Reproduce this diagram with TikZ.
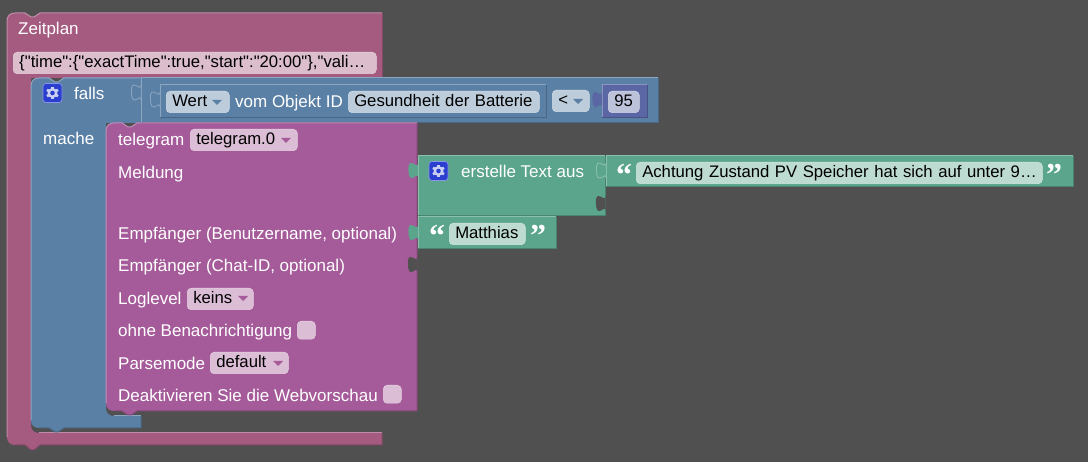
\documentclass[tikz,border=0pt]{standalone}
\usepackage{fontspec}
\setmainfont{Liberation Sans}[Ligatures=TeXOff]
\newfontfamily\quotefont{Liberation Serif}[BoldFont={Liberation Serif Bold}]
\definecolor{bgdark}{HTML}{505050}
\definecolor{bpink}{HTML}{A55B80}
\definecolor{bpinkhi}{HTML}{C08CA6}
\definecolor{bpinklo}{HTML}{844966}
\definecolor{fpink}{HTML}{DBBDCC}
\definecolor{bblue}{HTML}{5B80A5}
\definecolor{bbluehi}{HTML}{8CA6C0}
\definecolor{bbluelo}{HTML}{496684}
\definecolor{fblue}{HTML}{BDCCDB}
\definecolor{bpurple}{HTML}{A55B99}
\definecolor{bpurplehi}{HTML}{C08CB8}
\definecolor{bpurplelo}{HTML}{84497A}
\definecolor{fpurple}{HTML}{DBBDD6}
\definecolor{bgreen}{HTML}{5BA58C}
\definecolor{bgreenhi}{HTML}{8CC0AE}
\definecolor{bgreenlo}{HTML}{498470}
\definecolor{fgreen}{HTML}{BDDBD1}
\definecolor{bindigo}{HTML}{5B67A5}
\definecolor{bindigohi}{HTML}{8C95C0}
\definecolor{bindigolo}{HTML}{495284}
\definecolor{findigo}{HTML}{BDC2DB}
\definecolor{iconblue}{HTML}{2A3FCF}
\newcommand{\blockrect}[5]{%
  \fill[#5] (#1,#2) rectangle (#3,#4);
  \draw[#5hi,line width=1pt] (#1,#4)--(#1,#2)--(#3,#2);
  \draw[#5lo,line width=1pt] (#3,#2)--(#3,#4)--(#1,#4);
}
\begin{document}
\begin{tikzpicture}[
  x=1pt,y=-1pt,
  lab/.style={font=\fontsize{17}{18}\selectfont,text=white,anchor=base west,inner sep=0pt},
  pill/.style={draw=white!35!#1,fill=#1,line width=0.5pt,rounded corners=4pt,anchor=north west,
    font=\fontsize{16.7}{18}\selectfont,text=black,inner xsep=6pt,inner ysep=3pt,
    text height=12.7pt,text depth=2.8pt,align=left},
  tick/.style={fill=#1,draw=white!35!#1,line width=0.5pt,rounded corners=4pt,minimum size=18pt,
    inner sep=0pt,anchor=north west},
  quot/.style={font=\quotefont\bfseries\fontsize{32}{32}\selectfont,text=white,anchor=base west,inner sep=0pt},
  pics/puzzletab/.style={code={
    \path[#1] (0,0) .. controls (0,8) and (-10.5,-9) .. (-9.5,7.5) .. controls (-9,24) and (0,7) .. (0,15);
  }},
  pics/droparrow/.style={code={
    \fill[#1] (-5,-2)--(5,-2)--(0,3)--cycle;
  }},
  pics/gearicon/.style={code={
    \draw[fill=iconblue,draw=white!45!iconblue,line width=0.7pt,rounded corners=3pt] (-9.5,-9.5) rectangle (9.5,9.5);
    \foreach \a in {30,90,150,210,270,330}{
      \draw[white!75!iconblue,line width=2.6pt] (0,0)--(\a:6.4);
    }
    \fill[white!75!iconblue] (0,0) circle (5);
    \fill[iconblue] (0,0) circle (2.3);
  }},
]
\fill[bgdark] (0,0) rectangle (1088,462);
\useasboundingbox (0,0) rectangle (1088,462);

\fill[bpink] (15,13)--(25,13)--(31,17)--(34,17)--(40,13)--(382,13)--(382,78)--(31,78)--(31,425)
  .. controls (31,430) and (34,433) .. (39,433)--(382,433)--(382,445)--(40,445)--(34,450)--(31,450)--(25,445)--(15,445)
  .. controls (10,445) and (7,442) .. (7,437)--(7,21) .. controls (7,16) and (10,13) .. (15,13)--cycle;
\draw[bpinkhi,line width=1pt] (7,437)--(7,21) .. controls (7,16) and (10,13) .. (15,13)--(25,13)--(31,17)--(34,17)--(40,13)--(382,13);
\draw[bpinkhi,line width=1pt] (39,433)--(382,433);
\draw[bpinklo,line width=1pt] (382,13)--(382,78);
\draw[bpinklo,line width=1pt] (382,433)--(382,445)--(40,445)--(34,450)--(31,450)--(25,445)--(15,445);

\fill[bblue] (39,78)--(49,78)--(55,82)--(58,82)--(64,78)--(141,78)--(141,123)--(106,123)--(106,408)
  .. controls (106,413) and (109,416) .. (114,416)--(141,416)--(141,428)--(64,428)--(58,432)--(55,432)--(49,428)--(39,428)
  .. controls (34,428) and (31,425) .. (31,420)--(31,86) .. controls (31,81) and (34,78) .. (39,78)--cycle;
\draw[bbluehi,line width=1pt] (31,420)--(31,86) .. controls (31,81) and (34,78) .. (39,78)--(49,78)--(55,82)--(58,82)--(64,78)--(141,78);
\draw[bbluehi,line width=1pt] (114,416)--(141,416);
\draw[bbluelo,line width=1pt] (141,416)--(141,428)--(64,428)--(58,432)--(55,432)--(49,428)--(39,428);

\blockrect{141}{78}{658}{123}{bblue}
\pic at (141,85) {puzzletab={fill=bblue,draw=bbluehi,line width=0.8pt}};
\blockrect{160}{85}{546}{118}{bblue}
\pic at (160,92) {puzzletab={fill=bblue,draw=bbluehi,line width=0.8pt}};
\blockrect{602}{85}{647}{118}{bindigo}
\pic at (602,92) {puzzletab={fill=bindigo}};

\fill[bpurple] (114,123)--(122,123)--(128,127)--(131,127)--(137,123)--(417,123)--(417,411)--(137,411)--(131,415)--(128,415)--(122,411)--(114,411)
  .. controls (109,411) and (106,408) .. (106,403)--(106,131) .. controls (106,126) and (109,123) .. (114,123)--cycle;
\draw[bpurplehi,line width=1pt] (106,403)--(106,131) .. controls (106,126) and (109,123) .. (114,123)--(122,123)--(128,127)--(131,127)--(137,123)--(417,123);
\draw[bpurplelo,line width=1pt] (417,123)--(417,411)--(137,411)--(131,415)--(128,415)--(122,411)--(114,411);
\pic at (417.5,257) {puzzletab={fill=bgdark}};

\blockrect{418}{156}{605}{216}{bgreen}
\pic at (605.5,196) {puzzletab={fill=bgdark}};
\pic at (418,163) {puzzletab={fill=bgreen}};
\blockrect{606}{156}{1073}{187}{bgreen}
\pic at (606,163) {puzzletab={fill=bgreen,draw=bgreenhi,line width=0.8pt}};
\blockrect{418}{217}{556}{249}{bgreen}
\pic at (418,225) {puzzletab={fill=bgreen}};

\pic at (52.5,93) {gearicon};
\pic at (438.5,171) {gearicon};

\node[lab] (zeitplan) at (18,35) {Zeitplan};
\node[lab] (falls) at (74,100) {falls};
\node[lab] (mache) at (43,144.8) {mache};
\node[lab] (vomobjekt) at (235,107.6) {vom Objekt ID};
\node[lab] (erstelle) at (461,178) {erstelle Text aus};
\foreach \y/\nam/\lab in {145.8/telegram/telegram,178.8/meldung/Meldung,239.8/empfname/{Empfänger (Benutzername, optional)},271.8/empfchat/{Empfänger (Chat-ID, optional)},304.8/loglevel/Loglevel,337/ohne/ohne Benachrichtigung,369.8/parsemode/Parsemode,401.8/webvor/Deaktivieren Sie die Webvorschau}{
  \node[lab] (\nam) at (118,\y) {\lab};
}

\node[pill=fpink,text width=351pt] (cron) at (13,52) {\{"time":\{"exactTime":true,"start":"20:00"\},"vali…};
\node[pill=fblue,text width=51pt] (wert) at (166,91) {Wert};
\node[pill=fblue,text width=179pt] (gesund) at (348,91) {Gesundheit der Batterie};
\node[pill=fblue,text width=25pt] (vergleich) at (552,90) {<};
\node[pill=findigo,text width=19pt] (wertzahl) at (608,91) {95};
\node[pill=fpurple,text width=95pt] (instanz) at (190,129) {telegram.0};
\node[pill=fpurple,text width=54pt] (keins) at (187,288) {keins};
\node[pill=fpurple,text width=66pt] (parse) at (210,352) {default};
\node[pill=fgreen,text width=394pt] (achtung) at (636,162) {\mbox{Achtung Zustand PV Speicher hat sich auf unter 9…}};
\node[pill=fgreen,text width=64pt] (matthias) at (449,223) {Matthias};
\node[tick=fpurple] (ohnebox) at (297,321) {};
\node[tick=fpurple] (webbox) at (383,385) {};

\pic at (217,102) {droparrow=bblue};
\pic at (578,101) {droparrow=bblue};
\pic at (286,140) {droparrow=bpurple};
\pic at (243,298) {droparrow=bpurple};
\pic at (278,363) {droparrow=bpurple};

\node[quot] (quotA) at (616,186) {“};
\node[quot] (quotB) at (1046,186) {”};
\node[quot] (quotC) at (429,247) {“};
\node[quot] (quotD) at (530,247) {”};
\end{tikzpicture}
\end{document}
